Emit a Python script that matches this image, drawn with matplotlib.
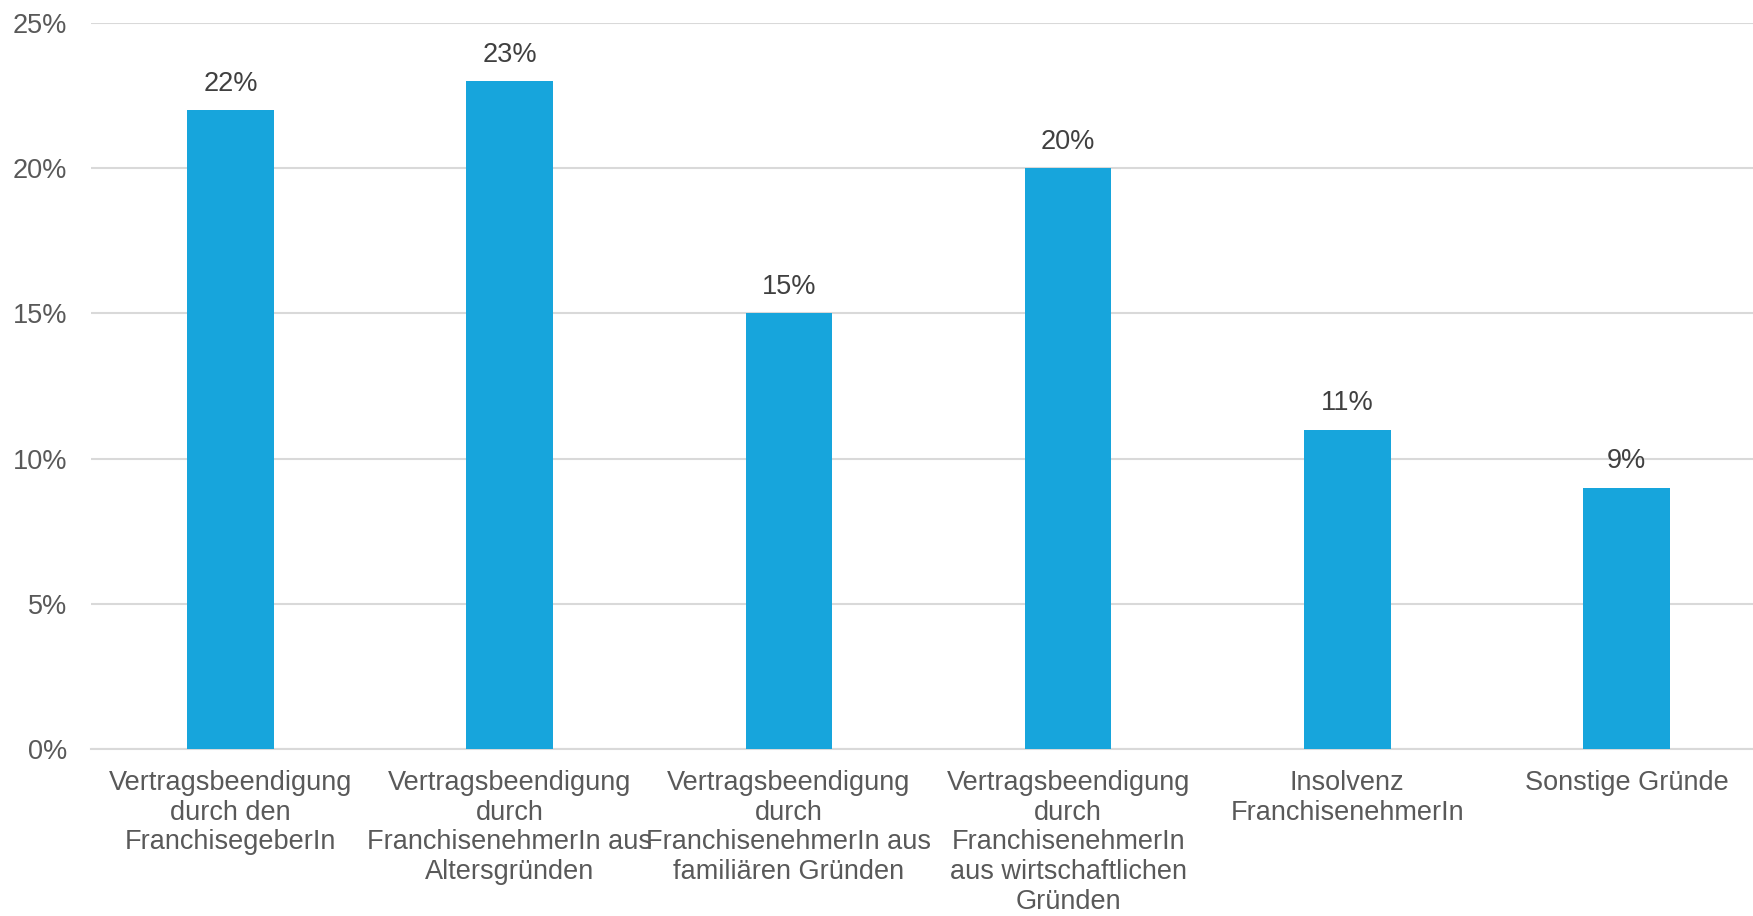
import matplotlib
matplotlib.use("Agg")
import matplotlib.pyplot as plt
from matplotlib.ticker import FuncFormatter

categories = [
    "Vertragsbeendigung\ndurch den\nFranchisegeberIn",
    "Vertragsbeendigung\ndurch\nFranchisenehmerIn aus\nAltersgründen",
    "Vertragsbeendigung\ndurch\nFranchisenehmerIn aus\nfamiliären Gründen",
    "Vertragsbeendigung\ndurch\nFranchisenehmerIn\naus wirtschaftlichen\nGründen",
    "Insolvenz\nFranchisenehmerIn",
    "Sonstige Gründe",
]
values = [22, 23, 15, 20, 11, 9]
yticks = [0, 5, 10, 15, 20, 25]

plt.rcParams['font.family'] = ['Liberation Sans', 'DejaVu Sans']

W, H = 1753, 916
fig = plt.figure(figsize=(W / 100, H / 100), dpi=100)
left, right = 91, 1766
top, bottom = 23, 749
ax = fig.add_axes([left / W, 1 - bottom / H, (right - left) / W, (bottom - top) / H])

x = list(range(len(categories)))
bars = ax.bar(x, values, width=0.31, color="#17A5DC", zorder=3)
ax.set_xlim(-0.5, len(categories) - 0.5)
ax.set_ylim(0, 25)
ax.set_yticks(yticks)
ax.yaxis.set_major_formatter(FuncFormatter(lambda v, p: f"{int(v)}%"))
ax.grid(axis="y", color="#D9D9D9", linewidth=1.5, zorder=0)
for s in ["top", "right", "left"]:
    ax.spines[s].set_visible(False)
ax.spines["bottom"].set_color("#D9D9D9")
ax.spines["bottom"].set_linewidth(1.5)
ax.tick_params(axis="both", length=0, labelsize=19.5, labelcolor="#595959")
ax.tick_params(axis="y", pad=17)
ax.tick_params(axis="x", pad=15)
ax.set_xticks(x)
ax.set_xticklabels(categories, linespacing=1.19, va="top")

for b, v in zip(bars, values):
    ax.annotate(f"{v}%", (b.get_x() + b.get_width() / 2, v), xytext=(0, 14),
                textcoords="offset points", ha="center", va="baseline",
                fontsize=19.5, color="#404040")

fig.savefig("out.png", dpi=100)
